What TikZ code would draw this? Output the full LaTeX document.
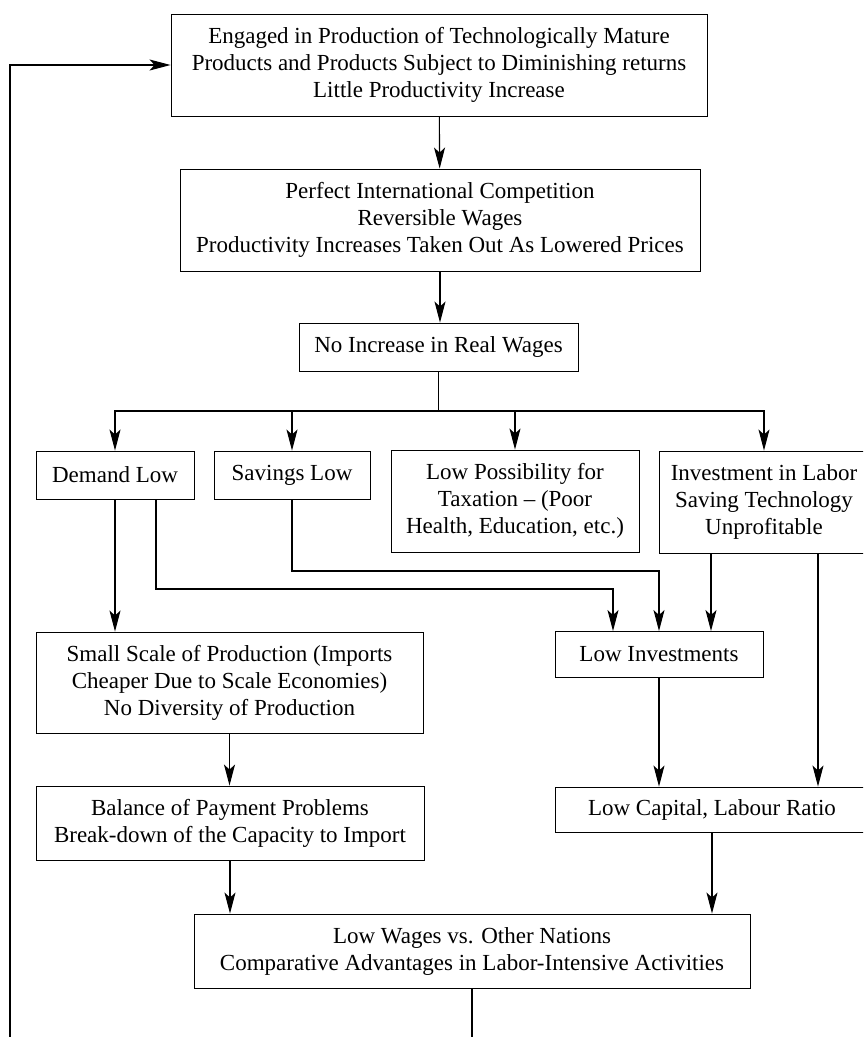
\documentclass[tikz,border=0pt]{standalone}
\usepackage{fontspec}
\setmainfont{Liberation Serif}
\usetikzlibrary{arrows.meta,positioning,calc}

\begin{document}
\begin{tikzpicture}[x=1pt,y=-1pt,
  font=\fontsize{23}{27}\selectfont,
  box/.style={draw,line width=0.9pt,align=center,inner sep=0pt},
  arr/.style={line width=1.1pt,-{Stealth[length=21pt,width=11pt,inset=5pt]}}]
  \clip (0,0) rectangle (863,1037);
  % chain down the middle
  \node[box,minimum width=536pt,minimum height=102pt] (mature) at (439,65) {Engaged in Production of Technologically Mature\\Products and Products Subject to Diminishing returns\\Little Productivity Increase};
  \node[box,minimum width=520pt,minimum height=102pt] (compet) at (440,220) {Perfect International Competition\\Reversible Wages\\Productivity Increases Taken Out As Lowered Prices};
  \node[box,minimum width=279pt,minimum height=48pt] (realwage) at (438.5,347) {No Increase in Real Wages};
  % row of effects
  \node[box,minimum width=158pt,minimum height=48pt] (demand) at (115,475) {Demand Low};
  \node[box,minimum width=156pt,minimum height=48pt] (savings) at (292,475) {Savings Low};
  \node[box,minimum width=248pt,minimum height=102pt] (taxation) at (515,501) {Low Possibility for\\Taxation \textendash{} (Poor\\Health, Education, etc.)};
  \node[box,minimum width=210pt,minimum height=102pt] (laborsave) at (764,502) {Investment in Labor\\Saving Technology\\Unprofitable};
  \node[box,minimum width=387pt,minimum height=101pt] (smallscale) at (229.5,682.5) {Small Scale of Production (Imports\\Cheaper Due to Scale Economies)\\No Diversity of Production};
  \node[box,minimum width=208pt,minimum height=46pt] (lowinv) at (659,654.5) {Low Investments};
  \node[box,minimum width=388pt,minimum height=74pt] (payment) at (230,823) {Balance of Payment Problems\\Break-down of the Capacity to Import};
  \node[box,minimum width=314pt,minimum height=45pt] (capital) at (712,809.5) {Low Capital, Labour Ratio};
  \node[box,minimum width=556pt,minimum height=74pt] (lowwage) at (472,951) {Low Wages vs. Other Nations\\Comparative Advantages in Labor-Intensive Activities};
  \coordinate (bus) at (0,411);
  \coordinate (dd) at (156,589);
  \coordinate (sd) at (0,571);
  \coordinate (fb) at (10,0);

  \draw[arr] (mature)--(compet);
  \draw[arr] (compet.south)--(compet.south |- realwage.north);
  \foreach \n in {demand,savings,taxation,laborsave}
    \draw[arr] (realwage.south) |- (\n.north |- bus) -- (\n.north);
  \draw[arr] (demand.south)--(demand.south |- smallscale.north);
  \draw[arr] (demand.south -| dd)--(dd) -| ([xshift=-46pt]lowinv.north);
  \draw[arr] (savings.south)--(savings.south |- sd) -| (lowinv.north);
  \draw[arr] ([xshift=-53pt]laborsave.south)--([xshift=-53pt]laborsave.south |- lowinv.north);
  \draw[arr] ([xshift=54pt]laborsave.south)--([xshift=54pt]laborsave.south |- capital.north);
  \draw[arr] (lowinv.south)--(lowinv.south |- capital.north);
  \draw[arr] (smallscale.south)--(smallscale.south |- payment.north);
  \draw[arr] (payment.south)--(payment.south |- lowwage.north);
  \draw[arr] (capital.south)--(capital.south |- lowwage.north);
  % loop back to the top (runs off the page)
  \draw[arr] (lowwage.south)--++(0,80) -| (mature.west -| fb) -- (mature.west);
\end{tikzpicture}
\end{document}
